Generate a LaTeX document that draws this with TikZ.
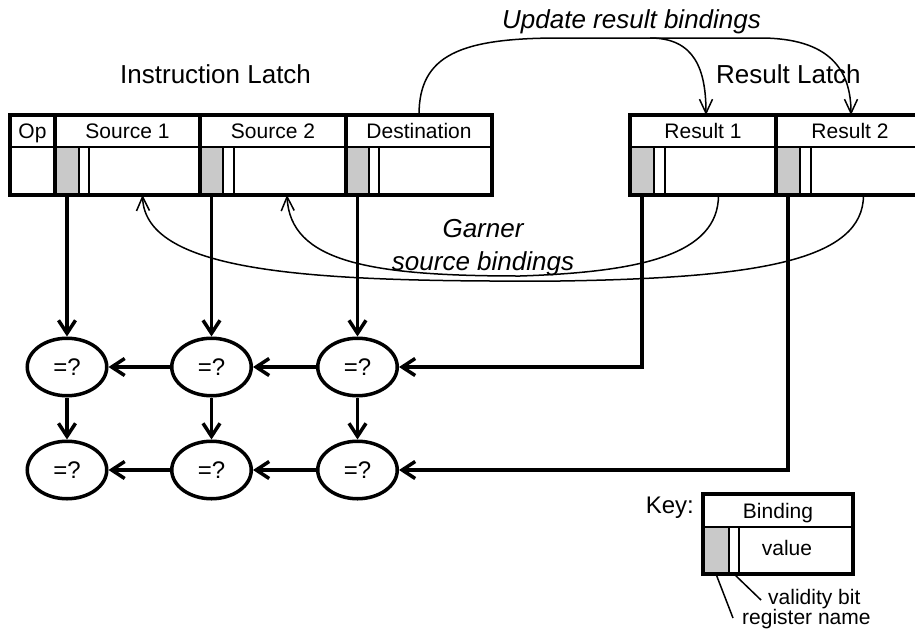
\documentclass[tikz,border=0pt]{standalone}
\usepackage{fontspec}
\setmainfont{Liberation Sans}
\usetikzlibrary{arrows.meta,shapes.geometric,calc}
\definecolor{regfill}{gray}{0.79}
\newcommand\fieldfont{\fontsize{21}{25}\selectfont}
\newcommand\titlefont{\fontsize{26}{31}\selectfont}
\newcommand\cmpfont{\fontsize{24}{28}\selectfont}

\begin{document}
\begin{tikzpicture}[x=1pt, y=-1pt,
  field/.style={draw, line width=1.2pt, inner sep=0pt, outer sep=0pt,
    anchor=north west, font=\fieldfont, text height=15pt, text depth=0pt},
  reg/.style={field, fill=regfill},
  frame/.style={line width=3.5pt},
  cmp/.style={ellipse, draw, line width=3.5pt, minimum width=79.5pt,
    minimum height=57.5pt, inner sep=0pt, font=\cmpfont},
  flow/.style={line width=3.5pt, -{Straight Barb[length=13pt,width=17pt]}},
  bind/.style={line width=1.5pt, -{Straight Barb[length=14pt,width=13pt]}},
  title/.style={font=\titlefont, inner sep=0pt, anchor=base west},
  note/.style={font=\fieldfont, inner sep=0pt, anchor=base west}]

\useasboundingbox (0,0) rectangle (915,632);

% ---------- Instruction latch ----------
\node[field, minimum width=45pt,  minimum height=32pt] (ophd)  at (10,115)  {Op};
\node[field, minimum width=45pt,  minimum height=48pt] (opval) at (10,147)  {};
\node[field, minimum width=145pt, minimum height=32pt] (s1hd)  at (55,115)  {Source 1};
\node[reg,   minimum width=24pt,  minimum height=48pt] (s1reg) at (55,147)  {};
\node[field, minimum width=10pt,  minimum height=48pt] (s1vb)  at (79,147)  {};
\node[field, minimum width=111pt, minimum height=48pt] (s1val) at (89,147)  {};
\node[field, minimum width=146pt, minimum height=32pt] (s2hd)  at (200,115) {Source 2};
\node[reg,   minimum width=23pt,  minimum height=48pt] (s2reg) at (200,147) {};
\node[field, minimum width=11pt,  minimum height=48pt] (s2vb)  at (223,147) {};
\node[field, minimum width=112pt, minimum height=48pt] (s2val) at (234,147) {};
\node[field, minimum width=146pt, minimum height=32pt] (dhd)   at (346,115) {Destination};
\node[reg,   minimum width=23pt,  minimum height=48pt] (dreg)  at (346,147) {};
\node[field, minimum width=10pt,  minimum height=48pt] (dvb)   at (369,147) {};
\node[field, minimum width=113pt, minimum height=48pt] (dval)  at (379,147) {};
\draw[frame] (10,115) rectangle (492,195);
\draw[frame] (55,115) -- (55,195) (200,115) -- (200,195) (346,115) -- (346,195);
\node[title] (ilabel) at (120,83) {Instruction Latch};

% ---------- Result latch ----------
\node[field, minimum width=146pt, minimum height=32pt] (r1hd)  at (630,115) {Result 1};
\node[reg,   minimum width=24pt,  minimum height=48pt] (r1reg) at (630,147) {};
\node[field, minimum width=11pt,  minimum height=48pt] (r1vb)  at (654,147) {};
\node[field, minimum width=111pt, minimum height=48pt] (r1val) at (665,147) {};
\node[field, minimum width=148pt, minimum height=32pt] (r2hd)  at (776,115) {Result 2};
\node[reg,   minimum width=24pt,  minimum height=48pt] (r2reg) at (776,147) {};
\node[field, minimum width=11pt,  minimum height=48pt] (r2vb)  at (800,147) {};
\node[field, minimum width=113pt, minimum height=48pt] (r2val) at (811,147) {};
\draw[frame] (630,115) rectangle (924,195);
\draw[frame] (776,115) -- (776,195);
\node[title] (rlabel) at (716,83) {Result Latch};

% ---------- Comparator grid ----------
\node[cmp] (e11) at (67,367)    {=?};
\node[cmp] (e12) at (211.5,367) {=?};
\node[cmp] (e13) at (357.5,367) {=?};
\node[cmp] (e21) at (67,470)    {=?};
\node[cmp] (e22) at (211.5,470) {=?};
\node[cmp] (e23) at (357.5,470) {=?};

\draw[flow] (s1reg.south) -- (e11.north);
\draw[flow] (s2reg.south) -- (e12.north);
\draw[flow] (dreg.south)  -- (e13.north);
\draw[flow] (e11.south) -- (e21.north);
\draw[flow] (e12.south) -- (e22.north);
\draw[flow] (e13.south) -- (e23.north);
\draw[flow] (e12.west) -- (e11.east);
\draw[flow] (e13.west) -- (e12.east);
\draw[flow] (e22.west) -- (e21.east);
\draw[flow] (e23.west) -- (e22.east);
\draw[flow] (r1reg.south) |- (e13.east);
\draw[flow] (r2reg.south) |- (e23.east);

% ---------- Binding updates ----------
\coordinate (split) at (650,38);
\draw[bind] (dhd.north) .. controls (419,55) and (460,38) .. (560,38)
  -- (split) .. controls (695,38) and (706,70) .. ([xshift=3pt]r1hd.north);
\draw[bind] (split) -- (760,38) .. controls (830,38) and (851,70) .. ([xshift=1pt]r2hd.north);
\node[title, font=\titlefont\itshape] (ulabel) at (502,28) {Update result bindings};

% ---------- Garnering source bindings ----------
\draw[bind] ([xshift=-2pt]r1val.south) .. controls +(0,60) and (640,272) .. (520,276)
  .. controls (370,276) and (290,262) .. ([xshift=-3pt]s2val.south);
\draw[bind] ([xshift=-4pt]r2val.south) .. controls +(0,65) and (760,278) .. (560,281)
  .. controls (320,282) and (145,275) .. ([xshift=-2pt]s1val.south);
\node[font=\titlefont\itshape, inner sep=0pt, anchor=base] (g1) at (483,237) {Garner};
\node[font=\titlefont\itshape, inner sep=0pt, anchor=base] (g2) at (483,270) {source bindings};

% ---------- Key ----------
\node[field, minimum width=150pt, minimum height=33pt] (khd)   at (703,494) {Binding};
\node[reg,   minimum width=26pt,  minimum height=47pt] (kreg)  at (703,527) {};
\node[field, minimum width=10pt,  minimum height=47pt] (kvb)   at (729,527) {};
\node[field, minimum width=114pt, minimum height=47pt] (kval)  at (739,527) {};
\draw[frame] (703,494) rectangle (853,574);
\node[font=\fieldfont, inner sep=0pt, anchor=base] (kvaltext) at (787,555) {value};
\node[font=\cmpfont, inner sep=0pt, anchor=base east] (keylabel) at (694,513) {Key:};
\coordinate (rnend) at (733,618);
\coordinate (vbend) at (761,600);
\draw[line width=1.5pt] (kreg.south) -- (rnend);
\draw[line width=1.5pt] (kvb.south) -- (vbend);
\node[note] (vbtext) at (768,604) {validity bit};
\node[note] (rntext) at (742,624) {register name};
\end{tikzpicture}
\end{document}
